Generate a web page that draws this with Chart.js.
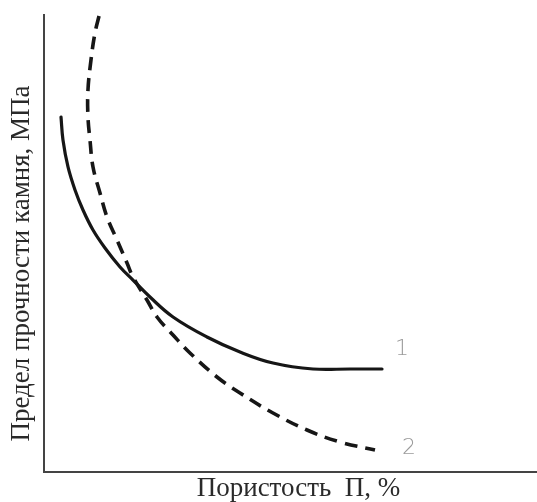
<!DOCTYPE html>
<html>
<head>
<meta charset="utf-8">
<script src="https://cdn.jsdelivr.net/npm/chart.js@4/dist/chart.umd.min.js"></script>
<style>
html,body{margin:0;padding:0;background:#fff;}
#wrap{width:537px;height:502px;position:relative;}
</style>
</head>
<body>
<div id="wrap"><canvas id="c" width="537" height="502"></canvas></div>
<script>
// Curve 1 (solid) — porosity vs strength, arbitrary units
const curve1X = [3.45, 3.85, 4.87, 6.29, 7.91, 9.94, 12.37, 15.42, 18.05, 21.50, 26.17, 33.06, 39.76, 46.45, 54.56, 62.07, 68.56];
const curve1Y = [77.68, 72.65, 66.74, 61.71, 57.33, 52.95, 49.02, 44.86, 42.01, 38.29, 33.92, 29.54, 26.26, 23.85, 22.54, 22.54, 22.54];
// Curve 2 (dashed)
const curve2X = [11.16, 10.34, 9.53, 8.92, 8.92, 9.33, 9.94, 11.36, 12.78, 14.81, 16.84, 18.05, 20.89, 22.92, 26.17, 29.61, 35.09, 39.76, 46.45, 53.35, 60.04, 67.14];
const curve2Y = [99.78, 96.06, 90.15, 83.59, 77.68, 72.65, 66.74, 61.05, 55.80, 50.77, 45.73, 42.67, 37.64, 33.92, 29.98, 26.04, 20.79, 17.29, 12.91, 9.19, 6.56, 4.81];
const curveLabels = ["1", "2"];
const xTitle = "Пористость  П, %";
const yTitle = "Предел прочности камня, МПа";

function pts(xs, ys){ return xs.map((x,i)=>({x:x, y:ys[i]})); }

const labelPlugin = {
  id:'labels',
  afterDatasetsDraw(chart){
    const ctx = chart.ctx;
    const offs = [[20,-20],[34,-2]];
    ctx.save();
    ctx.fillStyle = '#9a9a9a';
    ctx.font = '300 22px "DejaVu Sans"';
    ctx.textAlign = 'center';
    ctx.textBaseline = 'middle';
    chart.data.datasets.forEach((ds, i)=>{
      const meta = chart.getDatasetMeta(i);
      const last = meta.data[meta.data.length-1];
      ctx.fillText(curveLabels[i], last.x + offs[i][0], last.y + offs[i][1]);
    });
    // axis titles
    const a = chart.chartArea;
    ctx.fillStyle = '#2a2a2a';
    ctx.font = '27px "Liberation Serif"';
    ctx.fillText(xTitle, (a.left + a.right)/2 + 8, a.bottom + 17);
    ctx.save();
    ctx.translate(a.left - 22, (a.top + a.bottom)/2 + 20);
    ctx.rotate(-Math.PI/2);
    ctx.fillText(yTitle, 0, 0);
    ctx.restore();
    ctx.restore();
  }
};

new Chart(document.getElementById('c'), {
  type:'scatter',
  data:{
    datasets:[
      {data:pts(curve1X, curve1Y), showLine:true, borderColor:'#161616', borderWidth:3.2, pointRadius:0, tension:0.4, fill:false, borderCapStyle:'round'},
      {data:pts(curve2X, curve2Y), showLine:true, borderColor:'#161616', borderWidth:3.6, borderDash:[13,8], pointRadius:0, tension:0.4, fill:false}
    ]
  },
  options:{
    responsive:false,
    animation:false,
    layout:{padding:{left:44, top:15, right:0, bottom:30}},
    plugins:{legend:{display:false}, tooltip:{enabled:false}},
    scales:{
      x:{type:'linear', min:0, max:100, ticks:{display:false}, grid:{display:false, drawTicks:false}, border:{display:true, color:'#444', width:2}},
      y:{type:'linear', min:0, max:100, ticks:{display:false}, grid:{display:false, drawTicks:false}, border:{display:true, color:'#444', width:2}}
    }
  },
  plugins:[labelPlugin]
});
</script>
</body>
</html>
